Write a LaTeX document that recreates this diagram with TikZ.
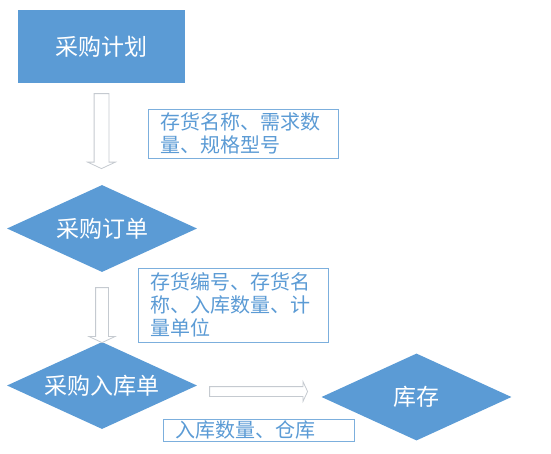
\documentclass[tikz,border=0pt]{standalone}
\usepackage{fontspec}
\setmainfont{Noto Sans CJK SC}
\usetikzlibrary{shapes.geometric, shapes.arrows}
\definecolor{flowBlue}{HTML}{5B9BD5}
\definecolor{arrowGray}{HTML}{C5CAD0}

\begin{document}
\begin{tikzpicture}[
    x=1pt, y=-1pt,
    procbox/.style={rectangle, fill=flowBlue, text=white, inner sep=0pt,
                    minimum width=167pt, minimum height=73pt,
                    font=\fontsize{23}{28}\selectfont},
    decision/.style={diamond, fill=flowBlue, text=white, inner sep=0pt, aspect=2.18,
                     minimum width=190pt, minimum height=87pt,
                     font=\fontsize{23}{28}\selectfont},
    infobox/.style={draw=flowBlue!80, line width=0.8pt, fill=white, text=flowBlue,
                    align=left, inner xsep=12pt, inner ysep=0pt,
                    font=\fontsize{20}{23}\selectfont},
    hollowarrow/.style={single arrow, draw=arrowGray, fill=white, line width=0.8pt,
                        inner sep=0pt, text height=#1, text depth=0pt,
                        single arrow head extend=6.5pt,
                        single arrow tip angle=130, single arrow head indent=0pt},
  ]
    \useasboundingbox (0,0) rectangle (551,453);

    \node[procbox]  (plan)    at (101.5,46.5) {采购计划};
    \node[decision] (order)   at (102,228.5)  {采购订单};
    \node[decision] (receipt) at (102,385.5)  {采购入库单};
    \node[decision] (stock)   at (416.5,397)  {库存};

    % block arrows between the steps
    \node[hollowarrow=14pt, rotate=-90, anchor=tail, minimum height=75pt]
      (a1) at ([yshift=-10pt]plan.south) {};
    \node[hollowarrow=12pt, rotate=-90, anchor=tail, minimum height=55pt]
      (a2) at ([yshift=-15pt]order.south) {};
    \node[hollowarrow=9pt, anchor=tail, minimum height=98pt,
          single arrow head extend=5pt]
      (a3) at ([xshift=12pt,yshift=-6pt]receipt.east) {};

    \node[infobox, minimum width=190pt, minimum height=49pt, text width=166pt]
      (info1) at (243,133.5) {存货名称、需求数\\量、规格型号};
    \node[infobox, minimum width=190pt, minimum height=74pt, text width=166pt]
      (info2) at (233,305) {存货编号、存货名\\称、入库数量、计\\量单位};
    \node[infobox, minimum width=191pt, minimum height=22pt, text width=167pt]
      (info3) at (258.5,430) {入库数量、仓库};
  \end{tikzpicture}
\end{document}
